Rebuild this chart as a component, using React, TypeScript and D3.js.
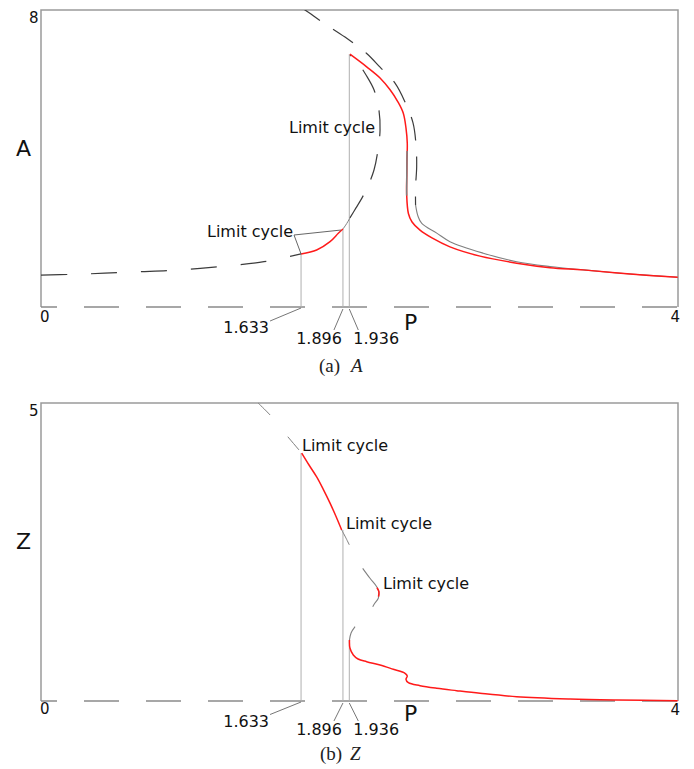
import React from "react";
import * as d3 from "d3";

// ---------- data ----------
const pDomain = [0, 4];
const aDomain = [0, 8];
const zDomain = [0, 5];
const bifP = [1.633, 1.896, 1.936];
const bifLabels = ["1.633", "1.896", "1.936"];
const xTickLabels = ["0", "4"];

// Panel (a): A
const aLowerDashedP = [0, 0.2, 0.4, 0.6, 0.8, 1.0, 1.2, 1.4, 1.633];
const aLowerDashedA = [0.86, 0.88, 0.91, 0.95, 0.98, 1.04, 1.12, 1.22, 1.43];
const aLowerLcP = [1.633, 1.731, 1.815, 1.867, 1.896];
const aLowerLcA = [1.43, 1.535, 1.759, 1.985, 2.1];
const aLowerGrayP = [1.896, 1.92, 1.94];
const aLowerGrayA = [2.1, 2.25, 2.4];
const aFoldP = [1.94, 1.978, 2.016, 2.053, 2.091, 2.116, 2.129, 2.122, 2.091, 2.041, 1.991, 1.94];
const aFoldA = [2.4, 2.67, 2.94, 3.26, 3.69, 4.23, 4.77, 5.31, 5.85, 6.25, 6.57, 6.79];
const aUpperP = [1.94, 2.045, 2.129, 2.192, 2.242, 2.275, 2.292, 2.3, 2.298, 2.297, 2.296, 2.307, 2.33, 2.38, 2.455, 2.568, 2.757, 2.987, 3.196, 3.405, 3.699, 3.998];
const aUpperA = [6.81, 6.47, 6.17, 5.85, 5.52, 5.22, 4.82, 4.41, 3.96, 3.56, 3.06, 2.52, 2.29, 2.07, 1.86, 1.62, 1.37, 1.18, 1.06, 1.0, 0.89, 0.8];
const aUpperGrayP = [2.299, 2.298, 2.297, 2.296];
const aUpperGrayA = [4.2, 3.96, 3.56, 3.0];
const aOuterDashedP = [1.626, 1.658, 1.771, 1.909, 2.045, 2.129, 2.223, 2.286, 2.336, 2.355, 2.359, 2.352, 2.352];
const aOuterDashedA = [8.08, 8.0, 7.66, 7.27, 6.83, 6.46, 6.03, 5.52, 4.96, 4.36, 3.78, 3.23, 2.75];
const aOuterTailP = [2.352, 2.367, 2.391, 2.485, 2.568, 2.777, 2.987, 3.196, 3.405, 3.699, 3.998];
const aOuterTailA = [2.75, 2.45, 2.25, 1.99, 1.76, 1.45, 1.22, 1.09, 1.0, 0.89, 0.8];

// Panel (b): Z
const zUpperGrayP = [1.363, 1.438, 1.551, 1.637];
const zUpperGrayZ = [5.0, 4.8, 4.43, 4.16];
const zUpperRedP = [1.637, 1.683, 1.731, 1.771, 1.815, 1.852, 1.888];
const zUpperRedZ = [4.16, 3.96, 3.76, 3.56, 3.32, 3.1, 2.87];
const zUpperTailP = [1.888, 1.912, 1.936];
const zUpperTailZ = [2.87, 2.75, 2.62];
const zMidP = [2.02, 2.066, 2.108, 2.122, 2.118, 2.097, 2.083];
const zMidZ = [2.226, 2.059, 1.918, 1.829, 1.723, 1.644, 1.582];
const zMidRedP = [2.11, 2.122, 2.119];
const zMidRedZ = [1.9, 1.829, 1.75];
const zLowerGrayP = [1.972, 1.947, 1.937];
const zLowerGrayZ = [1.247, 1.141, 1.023];
const zLowerRedP = [1.937, 1.94, 1.961, 1.991, 2.045, 2.129, 2.212, 2.286, 2.3, 2.292, 2.307, 2.38, 2.485, 2.61, 2.757, 2.987, 3.322, 3.615, 3.998];
const zLowerRedZ = [1.023, 0.889, 0.772, 0.705, 0.659, 0.604, 0.532, 0.465, 0.419, 0.364, 0.307, 0.257, 0.213, 0.173, 0.129, 0.072, 0.034, 0.017, 0.005];

// ---------- drawing ----------
const SANS = "DejaVu Sans";
const SERIF = "Liberation Serif";
const RED = "#ff1a1a";
const DARK = "#3c3c3c";
const GRAY = "#808080";

const X = d3.scaleLinear().domain(pDomain).range([41, 678]);
const YA = d3.scaleLinear().domain(aDomain).range([307, 10]);
const YZ = d3.scaleLinear().domain(zDomain).range([701, 403]);

function curve(P: number[], V: number[], y: d3.ScaleLinear<number, number>) {
  const gen = d3
    .line<number>()
    .x((i) => X(P[i]))
    .y((i) => y(V[i]))
    .curve(d3.curveCatmullRom.alpha(0.5));
  return gen(P.map((_, i) => i)) || "";
}

function Curve(props: {
  P: number[];
  V: number[];
  y: d3.ScaleLinear<number, number>;
  stroke: string;
  w?: number;
  dash?: string;
  clip?: string;
}) {
  return (
    <path
      d={curve(props.P, props.V, props.y)}
      fill="none"
      stroke={props.stroke}
      strokeWidth={props.w ?? 1.2}
      strokeDasharray={props.dash}
      clipPath={props.clip ? `url(#${props.clip})` : undefined}
    />
  );
}

function Frame({ y }: { y: d3.ScaleLinear<number, number> }) {
  const [x0, x1] = X.range();
  const yb = y(0);
  const yt = y(y.domain()[1]);
  return (
    <g>
      <path d={`M${x0},${yb}V${yt}H${x1}V${yb}`} fill="none" stroke="#9a9a9a" strokeWidth={1.5} />
      <line x1={x0} x2={x1} y1={yb} y2={yb} stroke="#8a8a8a" strokeWidth={1.6} strokeDasharray="35 27" strokeDashoffset={19} />
    </g>
  );
}

function BifMarks({ y, tops, labelY, firstY }: { y: d3.ScaleLinear<number, number>; tops: number[]; labelY: number; firstY: number }) {
  const yb = y(0);
  return (
    <g>
      {bifP.map((p, i) => (
        <line key={"v" + i} x1={X(p)} x2={X(p)} y1={y(tops[i])} y2={yb} stroke="#b0b0b0" strokeWidth={1} />
      ))}
      <line x1={X(bifP[0])} y1={yb + 1} x2={X(bifP[0]) - 31} y2={firstY - 12} stroke="#666" strokeWidth={0.9} />
      <line x1={X(bifP[1])} y1={yb + 2} x2={X(bifP[1]) - 9} y2={labelY - 14} stroke="#666" strokeWidth={0.9} />
      <line x1={X(bifP[2])} y1={yb + 2} x2={X(bifP[2]) + 9} y2={labelY - 14} stroke="#666" strokeWidth={0.9} />
      <text x={X(bifP[0]) - 32} y={firstY} textAnchor="end" fontFamily={SANS} fontSize={16} fill="#111">
        {bifLabels[0]}
      </text>
      <text x={X(bifP[1]) - 1} y={labelY} textAnchor="end" fontFamily={SANS} fontSize={16} fill="#111">
        {bifLabels[1]}
      </text>
      <text x={X(bifP[2]) + 4} y={labelY} textAnchor="start" fontFamily={SANS} fontSize={16} fill="#111">
        {bifLabels[2]}
      </text>
    </g>
  );
}

function LC({ x, y }: { x: number; y: number }) {
  return (
    <text x={x} y={y} fontFamily={SANS} fontSize={16} fill="#111">
      Limit cycle
    </text>
  );
}

export default function App() {
  const [x0, x1] = X.range();
  return (
    <svg
      width={694}
      height={769}
      viewBox="0 0 694 769"
      style={{ position: "absolute", left: 0, top: 0, background: "#fff" }}
    >
      <defs>
        <clipPath id="clipA">
          <rect x={x0} y={YA(8)} width={x1 - x0} height={YA(0) - YA(8)} />
        </clipPath>
        <clipPath id="clipZ">
          <rect x={x0} y={YZ(5)} width={x1 - x0} height={YZ(0) - YZ(5)} />
        </clipPath>
      </defs>

      {/* ===== Panel (a) ===== */}
      <Frame y={YA} />
      <BifMarks y={YA} tops={[aLowerLcA[0], aLowerLcA[aLowerLcA.length - 1], aUpperA[0]]} labelY={344} firstY={333} />
      <Curve P={aLowerDashedP} V={aLowerDashedA} y={YA} stroke={DARK} dash="26 24" />
      <Curve P={aLowerGrayP} V={aLowerGrayA} y={YA} stroke={GRAY} w={1} />
      <Curve P={aFoldP} V={aFoldA} y={YA} stroke={DARK} dash="26 18" />
      <Curve P={aOuterDashedP} V={aOuterDashedA} y={YA} stroke={DARK} dash="24 16" clip="clipA" />
      <Curve P={aOuterTailP} V={aOuterTailA} y={YA} stroke={GRAY} w={1.1} />
      <Curve P={aLowerLcP} V={aLowerLcA} y={YA} stroke={RED} w={1.5} />
      <Curve P={aUpperP} V={aUpperA} y={YA} stroke={RED} w={1.5} />
      <Curve P={aUpperGrayP} V={aUpperGrayA} y={YA} stroke={GRAY} w={1.5} />
      <path
        d={`M${X(aLowerLcP[4]) - 2},${YA(aLowerLcA[4]) + 1}L294,235L${X(aLowerLcP[0])},${YA(aLowerLcA[0])}`}
        fill="none"
        stroke="#555"
        strokeWidth={0.9}
      />
      <LC x={289} y={133} />
      <LC x={207} y={237} />

      <text x={38.5} y={22.5} textAnchor="end" fontFamily={SANS} fontSize={15} fill="#111">8</text>
      <text x={16} y={156} fontFamily={SANS} fontSize={22} fill="#111">A</text>
      <text x={40} y={321.5} fontFamily={SANS} fontSize={15} fill="#111">{xTickLabels[0]}</text>
      <text x={680} y={321.5} textAnchor="end" fontFamily={SANS} fontSize={15} fill="#111">{xTickLabels[1]}</text>
      <text x={404} y={330} fontFamily={SANS} fontSize={22} fill="#111">P</text>
      <text x={319} y={372} fontFamily={SERIF} fontSize={19} fill="#222">(a)</text>
      <text x={351} y={372} fontFamily={SERIF} fontStyle="italic" fontSize={19} fill="#222">A</text>

      {/* ===== Panel (b) ===== */}
      <Frame y={YZ} />
      <BifMarks y={YZ} tops={[zUpperRedZ[0], zUpperRedZ[zUpperRedZ.length - 1], zLowerRedZ[0]]} labelY={735} firstY={726.5} />
      <Curve P={zUpperGrayP} V={zUpperGrayZ} y={YZ} stroke={GRAY} w={1} dash="17 28" />
      <Curve P={zUpperRedP} V={zUpperRedZ} y={YZ} stroke={RED} w={1.5} />
      <Curve P={zUpperTailP} V={zUpperTailZ} y={YZ} stroke={GRAY} w={1} />
      <Curve P={zMidP} V={zMidZ} y={YZ} stroke={GRAY} w={1.1} />
      <Curve P={zMidRedP} V={zMidRedZ} y={YZ} stroke={RED} w={1.5} />
      <Curve P={zLowerGrayP} V={zLowerGrayZ} y={YZ} stroke={GRAY} w={1.1} />
      <Curve P={zLowerRedP} V={zLowerRedZ} y={YZ} stroke={RED} w={1.5} />
      <LC x={302} y={451} />
      <LC x={346} y={529} />
      <LC x={383} y={589} />

      <text x={38.5} y={415.5} textAnchor="end" fontFamily={SANS} fontSize={15} fill="#111">5</text>
      <text x={16} y={549} fontFamily={SANS} fontSize={22} fill="#111">Z</text>
      <text x={40} y={714} fontFamily={SANS} fontSize={15} fill="#111">{xTickLabels[0]}</text>
      <text x={680} y={715} textAnchor="end" fontFamily={SANS} fontSize={15} fill="#111">{xTickLabels[1]}</text>
      <text x={404} y={721} fontFamily={SANS} fontSize={22} fill="#111">P</text>
      <text x={320} y={760} fontFamily={SERIF} fontSize={19} fill="#222">(b)</text>
      <text x={350} y={760} fontFamily={SERIF} fontStyle="italic" fontSize={19} fill="#222">Z</text>
    </svg>
  );
}
